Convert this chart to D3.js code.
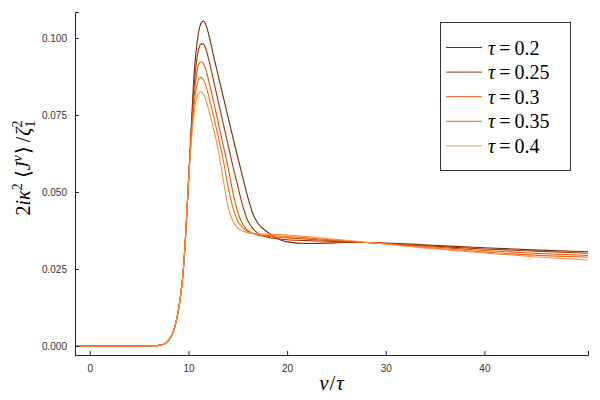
<!DOCTYPE html>
<html><head><meta charset="utf-8">
<script src="https://cdn.jsdelivr.net/npm/d3@7"></script>
<style>body{margin:0;background:#fff}svg{display:block}</style>
</head><body>
<svg id="chart" width="600" height="400"></svg>
<script>
const xValues = [-1.5,0,2,4,5,6,6.5,7,7.5,8,8.5,9,9.25,9.5,9.75,10,10.25,10.5,10.75,11,11.25,11.5,11.75,12,12.5,13,13.5,14,14.5,15,15.5,16,16.5,17,18,19,20,22,24,26,28,30,33,36,40,45,50.5];
const rise = [0,0,0,0,0,0.00005,0.0001,0.0002,0.0006,0.0019,0.005,0.012,0.0175,0.0255,0.038];
const tau02  = rise.concat([0.053,0.069,0.0845,0.0950,0.1013,0.1046,0.1055,0.1045,0.1018,0.0948,0.0880,0.0813,0.0745,0.0678,0.0612,0.0548,0.0485,0.0432,0.0400,0.0370,0.0349,0.0338,0.0333,0.0334,0.0336,0.0336,0.0334,0.0330,0.0325,0.0319,0.0312,0.0306]);
const tau025 = rise.concat([0.053,0.068,0.0815,0.0905,0.0958,0.0980,0.0981,0.0966,0.0938,0.0868,0.0797,0.0726,0.0655,0.0585,0.0518,0.0455,0.0408,0.0382,0.0367,0.0353,0.0348,0.0345,0.0342,0.0340,0.0338,0.0336,0.0333,0.0328,0.0322,0.0315,0.0308,0.0301]);
const tau03  = rise.concat([0.053,0.067,0.0785,0.0865,0.0910,0.0923,0.0918,0.0898,0.0868,0.0800,0.0728,0.0655,0.0582,0.0500,0.0435,0.0395,0.0375,0.0366,0.0360,0.0356,0.0353,0.0351,0.0347,0.0343,0.0340,0.0336,0.0332,0.0326,0.0319,0.0310,0.0301,0.0294]);
const tau035 = rise.concat([0.053,0.066,0.0760,0.0827,0.0862,0.0872,0.0866,0.0847,0.0818,0.0752,0.0682,0.0608,0.0520,0.0450,0.0405,0.0384,0.0371,0.0365,0.0362,0.0359,0.0357,0.0356,0.0351,0.0346,0.0341,0.0336,0.0331,0.0323,0.0315,0.0305,0.0295,0.0288]);
const tau04  = rise.concat([0.053,0.0645,0.0735,0.0793,0.0820,0.0826,0.0818,0.0800,0.0773,0.0710,0.0640,0.0545,0.0455,0.0405,0.0383,0.0373,0.0368,0.0366,0.0364,0.0363,0.0362,0.0361,0.0355,0.0349,0.0343,0.0337,0.0331,0.0321,0.0313,0.0302,0.0290,0.0279]);
const seriesLabels = ["0.2","0.25","0.3","0.35","0.4"];
const seriesValues = [tau02, tau025, tau03, tau035, tau04];
const seriesColors = ["#7f2704","#a63603","#e6550d","#f16913","#fd8d3c"];
const xTicks = [0,10,20,30,40];
const yTicks = [0,0.025,0.05,0.075,0.1];

const svg = d3.select("#chart");
const m = {left:75, right:12, top:12, bottom:45};
const W = 600, H = 400;
const x = d3.scaleLinear().domain([-1.5,50.5]).range([m.left, W-m.right]);
const y = d3.scaleLinear().domain([-0.00292,0.10844]).range([H-m.bottom, m.top]);

const line = d3.line().x((d,i)=>x(xValues[i])).y(d=>y(d)).curve(d3.curveMonotoneX);
seriesValues.forEach((vals,k)=>{
  svg.append("path").datum(vals).attr("d",line).attr("fill","none")
    .attr("stroke",seriesColors[k]).attr("stroke-width",1.1);
});

const axisColor = "#222";
const gx = svg.append("g").attr("transform",`translate(0,${H-m.bottom})`)
  .call(d3.axisBottom(x).tickValues(xTicks).tickSize(-4).tickPadding(8).tickFormat(d3.format("d")));
const gy = svg.append("g").attr("transform",`translate(${m.left},0)`)
  .call(d3.axisLeft(y).tickValues(yTicks).tickSize(-4).tickPadding(8).tickFormat(d3.format(".3f")));
[gx,gy].forEach(g=>{
  g.select(".domain").attr("stroke",axisColor).attr("stroke-width",1);
  g.selectAll(".tick line").attr("stroke",axisColor);
  g.selectAll(".tick text").attr("fill","#333").attr("font-family","Liberation Sans, Arial, sans-serif").attr("font-size",10);
});
gx.selectAll(".tick text").attr("dy","0.9em");

// x label
const xl = svg.append("text").attr("x",(m.left+W-m.right)/2).attr("y",390)
  .attr("text-anchor","middle").attr("font-family","Liberation Serif, serif").attr("font-size",21);
xl.append("tspan").attr("font-style","italic").text("v");
xl.append("tspan").attr("dx",1).text("/");
xl.append("tspan").attr("dx",1).attr("font-style","italic").text("τ");

// y label
const yl = svg.append("text").attr("transform",`translate(30,168) rotate(-90)`)
  .attr("text-anchor","middle").attr("font-family","Liberation Serif, serif").attr("font-size",20);
yl.append("tspan").text("2");
yl.append("tspan").attr("font-style","italic").text("iκ");
yl.append("tspan").attr("font-size",14).attr("dy",-8).text("2");
yl.append("tspan").attr("dy",8).attr("dx",5).text("⟨");
yl.append("tspan").attr("font-style","italic").text("J");
yl.append("tspan").attr("font-size",14).attr("font-style","italic").attr("dy",-8).text("v");
yl.append("tspan").attr("dy",8).attr("dx",1).text("⟩");
yl.append("tspan").attr("dx",4).text("/");
yl.append("tspan").attr("dx",1).attr("font-style","italic").text("ζ");
yl.append("tspan").attr("font-size",14).attr("dy",5).text("1");
yl.append("tspan").attr("font-size",14).attr("dx",-7).attr("dy",-13).text("2");

// legend
const lg = svg.append("g");
lg.append("rect").attr("x",440.5).attr("y",22.5).attr("width",130).attr("height",148)
  .attr("fill","#fff").attr("stroke","#333").attr("stroke-width",1);
seriesLabels.forEach((lab,k)=>{
  const yy = 47.5 + k*24.6;
  lg.append("line").attr("x1",446).attr("x2",482).attr("y1",yy).attr("y2",yy)
    .attr("stroke",seriesColors[k]).attr("stroke-width",1);
  const t = lg.append("text").attr("x",488).attr("y",yy).attr("dy","0.35em")
    .attr("font-family","Liberation Serif, serif").attr("font-size",20);
  t.append("tspan").attr("font-style","italic").text("τ");
  t.append("tspan").attr("dx",4).text("=");
  t.append("tspan").attr("dx",4).text(lab);
});
</script>
</body></html>
